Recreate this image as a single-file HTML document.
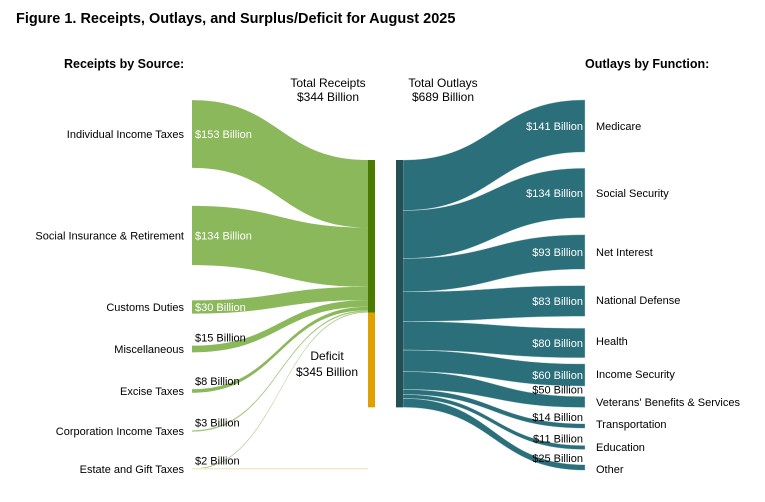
<!DOCTYPE html>
<html><head><meta charset="utf-8">
<style>
html,body{margin:0;padding:0;background:#fff;}
svg{display:block;font-family:"Liberation Sans",Arial,sans-serif;}
</style></head>
<body>
<svg id="chart" width="765" height="502" viewBox="0 0 765 502">
  <text x="16" y="23" font-size="14.5" font-weight="bold" fill="#000">Figure 1. Receipts, Outlays, and Surplus/Deficit for August 2025</text>
  <text x="64" y="68" font-size="12.5" font-weight="bold">Receipts by Source:</text>
  <text x="585" y="68" font-size="12.5" font-weight="bold">Outlays by Function:</text>
  <text x="328" y="87" font-size="12" text-anchor="middle">Total Receipts</text>
  <text x="328" y="101" font-size="12" text-anchor="middle">$344 Billion</text>
  <text x="443" y="87" font-size="12" text-anchor="middle">Total Outlays</text>
  <text x="443" y="101" font-size="12" text-anchor="middle">$689 Billion</text>
  <text x="327" y="360" font-size="12" text-anchor="middle">Deficit</text>
  <text x="327" y="376" font-size="12" text-anchor="middle">$345 Billion</text>
  <g id="flows"></g>
  <g id="labels"></g>
</svg>
<script>
const receiptCats = ["Individual Income Taxes","Social Insurance & Retirement","Customs Duties","Miscellaneous","Excise Taxes","Corporation Income Taxes","Estate and Gift Taxes"];
const receiptVals = [153,134,30,15,8,3,2];
const outlayCats = ["Medicare","Social Security","Net Interest","National Defense","Health","Income Security","Veterans' Benefits & Services","Transportation","Education","Other"];
const outlayVals = [141,134,93,83,80,60,50,14,11,25];
const deficitVal = 345;

// layout (not data)
const leftCenters = [134,235.5,307,349,391,431,469];
const rightCenters = [126,193,252,301,343,375,402,426,447.5,467.5];
const rightLabelY = [126,193,252,300,341,374,402,424,447,469];
const NS="http://www.w3.org/2000/svg";
const flows=document.getElementById('flows'), labels=document.getElementById('labels');
function mk(tag,attrs,parent){const e=document.createElementNS(NS,tag);for(const k in attrs)e.setAttribute(k,attrs[k]);parent.appendChild(e);return e;}
function ribbon(x0,a0,a1,x1,b0,b1){const m=(x0+x1)/2;
  return `M${x0},${a0} C${m},${a0} ${m},${b0} ${x1},${b0} L${x1},${b1} C${m},${b1} ${m},${a1} ${x0},${a1} Z`;}
const kL=0.442, kBar=0.358, kR=0.37;
const barTop=160;
let acc=barTop;
receiptVals.forEach((v,i)=>{
  const h=Math.max(v*kL,0.6);
  const a0=leftCenters[i]-h/2;
  const p=mk('path',{d:ribbon(192,a0,a0+h,368,acc,acc+h),fill:'#8cb85c','fill-opacity':i>=5?0.8:1},flows);
  
  
  acc+=h;
  const lab=mk('text',{x:184,y:leftCenters[i]+4,'font-size':11,'text-anchor':'end'},labels);
  lab.textContent=receiptCats[i];
  
  
  const inside=v>=30;
  const vl=mk('text',{x:195,y:inside?leftCenters[i]+4:leftCenters[i]-h/2-4,'font-size':11,fill:inside?'#fff':'#000'},labels);
  vl.textContent='$'+v+' Billion';
  
  
});
const faint=mk('rect',{x:192,y:468,width:176,height:1.5,fill:'#f5e8cc'},flows);


const recBar=mk('rect',{x:368,y:barTop,width:7,height:acc-barTop,fill:'#4a7a00'},flows);


const defBar=mk('rect',{x:368,y:acc,width:7,height:deficitVal*0.275,fill:'#e0a000'},flows);


const total=outlayVals.reduce((a,b)=>a+b,0);
let acc2=barTop;
outlayVals.forEach((v,i)=>{
  const h0=v*kBar, h1=Math.min(v*kR, i>=6?Math.max(v*0.22,4.5):999);
  const b0=rightCenters[i]-h1/2;
  const p=mk('path',{d:ribbon(403,acc2,acc2+h0,585,b0,b0+h1),fill:'#2b6f7a',stroke:'#c9dde0','stroke-width':0.4},flows);
  
  
  acc2+=h0;
  const lab=mk('text',{x:596,y:rightLabelY[i]+4,'font-size':11},labels);
  lab.textContent=outlayCats[i];
  
  
  const inside=v>=60;
  const vl=mk('text',{x:583,y:inside?rightCenters[i]+4:b0-3,'font-size':11,'text-anchor':'end',fill:inside?'#fff':'#000'},labels);
  vl.textContent='$'+v+' Billion';
  
  
});
const outBar=mk('rect',{x:396,y:barTop,width:7,height:total*kBar,fill:'#244f55'},flows);


</script>
</body></html>
